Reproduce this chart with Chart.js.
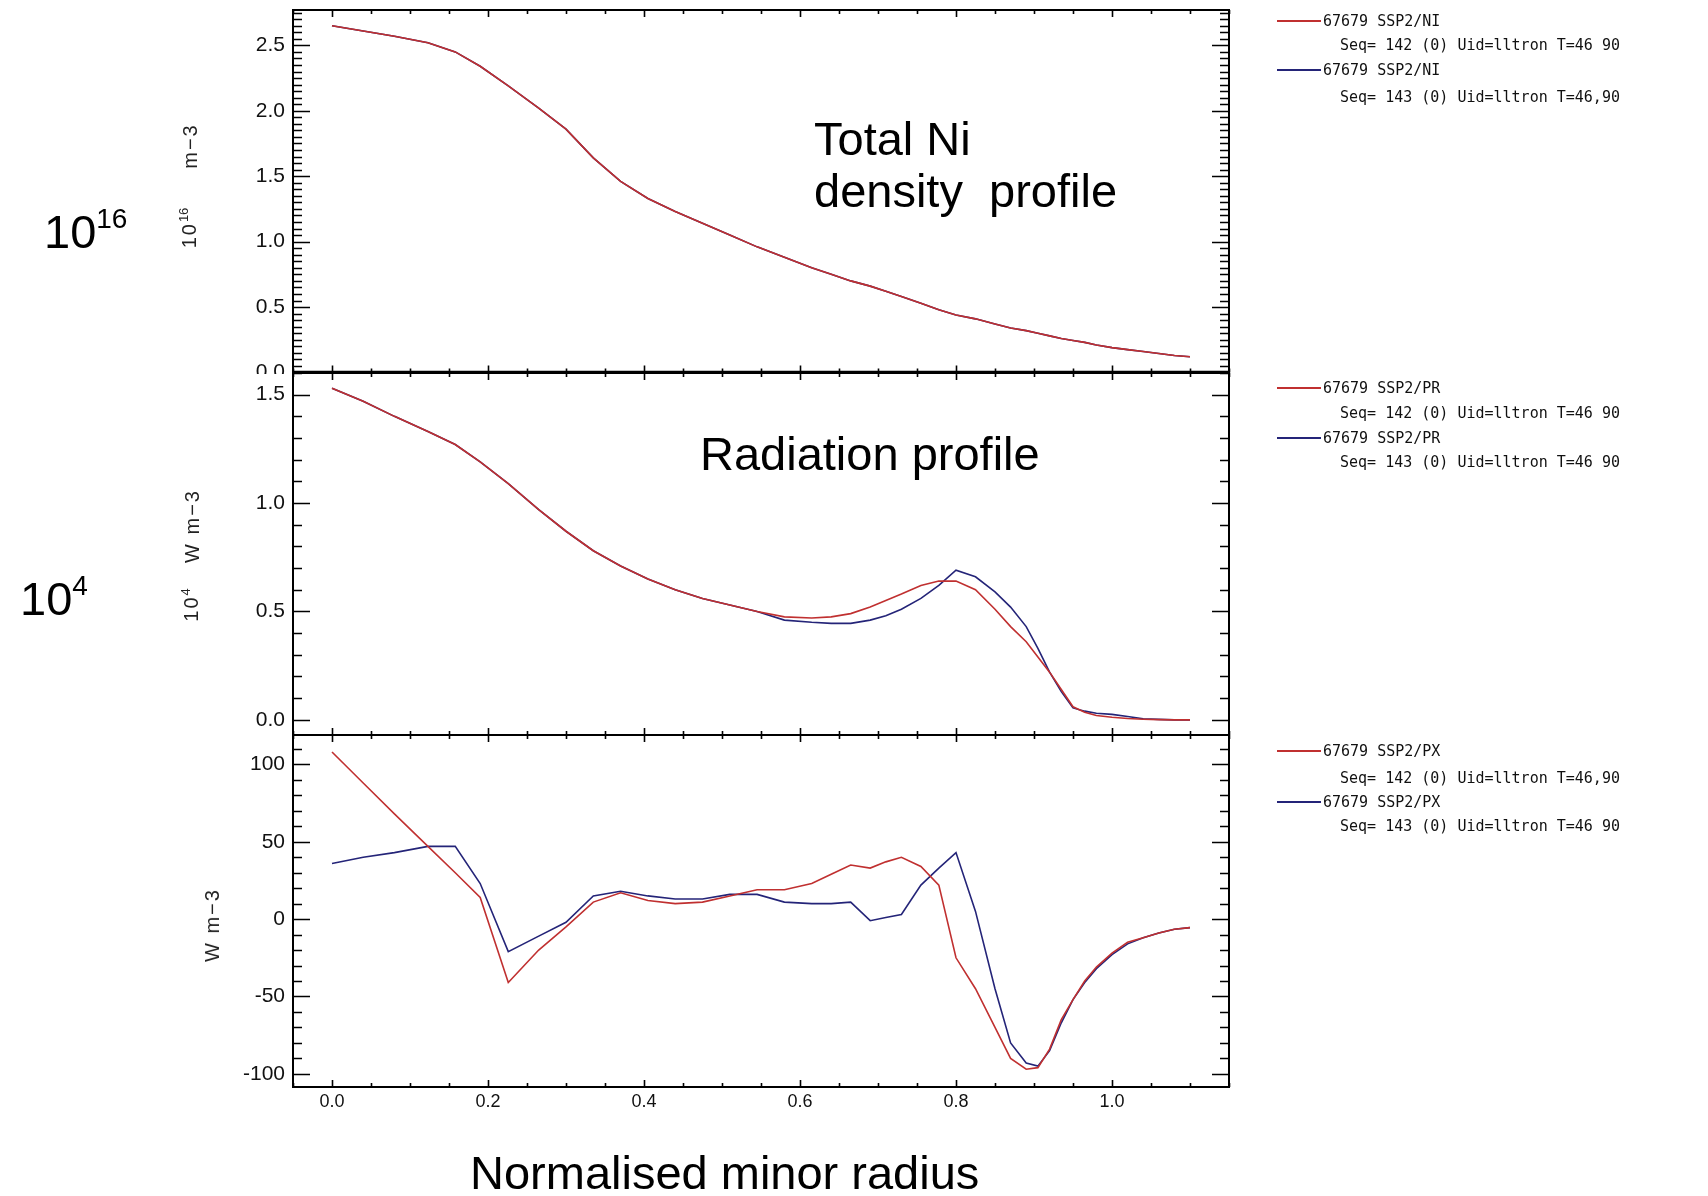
<!DOCTYPE html>
<html>
<head>
<meta charset="utf-8">
<script src="https://cdn.jsdelivr.net/npm/chart.js@4.4.1/dist/chart.umd.min.js"></script>
<style>
  html, body { margin: 0; padding: 0; background: #fff; }
  body { width: 1708px; height: 1196px; position: relative; overflow: hidden; }
  canvas { position: absolute; left: 0; }
  .big { position: absolute; font-family: "Liberation Sans", Arial, sans-serif; font-size: 47px; line-height: 47px; color: #000; white-space: pre; }
  .big sup { font-size: 28px; vertical-align: 0; position: relative; top: -20px; }
  .ytitle { position: absolute; font-family: "Liberation Sans", Arial, sans-serif; font-size: 20px; line-height: 20px; letter-spacing: 2px; color: #222; white-space: pre; transform: translate(-50%, -50%) rotate(-90deg); }
  .ytitle sup { font-size: 13px; vertical-align: 0; position: relative; top: -8px; letter-spacing: 0; }
  .leg { position: absolute; font-family: "DejaVu Sans Mono", monospace; font-size: 15px; line-height: 16px; color: #111; white-space: pre; }
  .seg { position: absolute; height: 2px; width: 44px; left: 1277px; }
</style>
</head>
<body>
<canvas id="cNi" width="1708" height="374" style="top:0px"></canvas>
<canvas id="cPr" width="1708" height="380" style="top:363px"></canvas>
<canvas id="cPx" width="1708" height="471" style="top:725px"></canvas>

<div class="big" style="left:814px; top:115px">Total Ni</div>
<div class="big" style="left:814px; top:167px">density  profile</div>
<div class="big" style="left:700px; top:430px">Radiation profile</div>
<div class="big" style="left:44px; top:208px">10<sup>16</sup></div>
<div class="big" style="left:20px; top:575px">10<sup>4</sup></div>
<div class="big" style="left:470px; top:1149px">Normalised minor radius</div>

<div class="ytitle" style="left:190px; top:228px">10<sup>16</sup></div>
<div class="ytitle" style="left:190px; top:146px">m−3</div>
<div class="ytitle" style="left:192px; top:605px">10<sup>4</sup></div>
<div class="ytitle" style="left:192px; top:526px">W m−3</div>
<div class="ytitle" style="left:212px; top:925px">W m−3</div>

<div id="legends"></div>

<script>
// Normalised minor radius grid shared by all profiles
const radius = [0.000, 0.040, 0.080, 0.123, 0.158, 0.190, 0.226, 0.265, 0.300, 0.335,
                0.370, 0.405, 0.440, 0.475, 0.510, 0.545, 0.580, 0.615, 0.640, 0.665,
                0.690, 0.710, 0.730, 0.755, 0.778, 0.800, 0.825, 0.850, 0.870, 0.890,
                0.905, 0.920, 0.935, 0.950, 0.965, 0.980, 1.000, 1.020, 1.040, 1.060,
                1.080, 1.100];

// Total Ni density (10^16 m-3)
const niSeq142 = [2.65, 2.61, 2.57, 2.52, 2.45, 2.34, 2.19, 2.02, 1.86, 1.64,
                  1.46, 1.33, 1.23, 1.14, 1.05, 0.96, 0.88, 0.80, 0.75, 0.70,
                  0.66, 0.62, 0.58, 0.53, 0.48, 0.44, 0.41, 0.37, 0.34, 0.32,
                  0.30, 0.28, 0.26, 0.245, 0.23, 0.21, 0.19, 0.175, 0.16, 0.145,
                  0.13, 0.12];
const niSeq143 = [2.65, 2.61, 2.57, 2.52, 2.45, 2.34, 2.19, 2.02, 1.86, 1.64,
                  1.46, 1.33, 1.23, 1.14, 1.05, 0.96, 0.88, 0.80, 0.75, 0.70,
                  0.66, 0.62, 0.58, 0.53, 0.48, 0.44, 0.41, 0.37, 0.34, 0.32,
                  0.30, 0.28, 0.26, 0.245, 0.23, 0.21, 0.19, 0.175, 0.16, 0.145,
                  0.13, 0.12];

// Radiated power density (10^4 W m-3)
const prSeq142 = [1.53, 1.47, 1.40, 1.33, 1.27, 1.19, 1.09, 0.97, 0.87, 0.78,
                  0.71, 0.65, 0.60, 0.56, 0.53, 0.50, 0.475, 0.47, 0.475, 0.49,
                  0.52, 0.55, 0.58, 0.62, 0.64, 0.64, 0.60, 0.51, 0.43, 0.36,
                  0.29, 0.22, 0.14, 0.06, 0.035, 0.02, 0.012, 0.006, 0.003, 0.001,
                  0, 0];
const prSeq143 = [1.53, 1.47, 1.40, 1.33, 1.27, 1.19, 1.09, 0.97, 0.87, 0.78,
                  0.71, 0.65, 0.60, 0.56, 0.53, 0.50, 0.46, 0.45, 0.445, 0.445,
                  0.46, 0.48, 0.51, 0.56, 0.62, 0.69, 0.66, 0.59, 0.52, 0.43,
                  0.33, 0.22, 0.13, 0.055, 0.04, 0.03, 0.025, 0.015, 0.005, 0.002,
                  0, 0];

// Net power source (W m-3)
const pxSeq142 = [108, 88, 68, 47, 30, 14, -41, -20, -5, 11,
                  17, 12, 10, 11, 15, 19, 19, 23, 29, 35,
                  33, 37, 40, 34, 22, -25, -45, -70, -90, -97,
                  -96, -84, -65, -52, -40, -31, -22, -15, -12, -9,
                  -6.5, -5.5];
const pxSeq143 = [36, 40, 43, 47, 47, 23, -21, -11, -2, 15,
                  18, 15, 13, 13, 16, 16, 11, 10, 10, 11,
                  -1, 1, 3, 22, 33, 43, 5, -45, -80, -93,
                  -95, -85, -67, -52, -41, -32, -23, -16, -12, -9,
                  -6.5, -5.5];

const xTickValues = [0, 0.2, 0.4, 0.6, 0.8, 1.0];

const legendNi = ['67679 SSP2/NI', 'Seq= 142 (0) Uid=lltron T=46 90', '67679 SSP2/NI', 'Seq= 143 (0) Uid=lltron T=46,90'];
const legendPr = ['67679 SSP2/PR', 'Seq= 142 (0) Uid=lltron T=46 90', '67679 SSP2/PR', 'Seq= 143 (0) Uid=lltron T=46 90'];
const legendPx = ['67679 SSP2/PX', 'Seq= 142 (0) Uid=lltron T=46,90', '67679 SSP2/PX', 'Seq= 143 (0) Uid=lltron T=46 90'];

const RED = 'rgb(192,48,48)';
const BLUE = 'rgb(36,36,120)';

const pts = ys => radius.map((r, i) => ({x: r, y: ys[i]}));

// IDL-style box: frame on four sides with inward major/minor ticks
const idlFrame = {
  id: 'idlFrame',
  afterDatasetsDraw(chart, args, o) {
    const {ctx, chartArea: a, scales: {x, y}} = chart;
    ctx.save();
    ctx.strokeStyle = '#000';
    ctx.lineWidth = 1.6;
    const each = (min, max, step, fn) => {
      const i0 = Math.ceil(min / step - 1e-9), i1 = Math.floor(max / step + 1e-9);
      for (let i = i0; i <= i1; i++) fn(+(i * step).toFixed(6));
    };
    ctx.beginPath();
    each(y.min, y.max, o.yMinor, v => {
      const major = Math.abs(v / o.yMajor - Math.round(v / o.yMajor)) < 1e-6;
      const len = major ? 17 : 9;
      const py = Math.round(y.getPixelForValue(v)) + 0.5;
      ctx.moveTo(a.left, py); ctx.lineTo(a.left + len, py);
      ctx.moveTo(a.right, py); ctx.lineTo(a.right - len, py);
    });
    each(x.min, x.max, 0.05, v => {
      const major = Math.abs(v / 0.2 - Math.round(v / 0.2)) < 1e-6;
      const len = major ? 7 : 4;
      const px = Math.round(x.getPixelForValue(v)) + 0.5;
      ctx.moveTo(px, a.bottom); ctx.lineTo(px, a.bottom - len);
      ctx.moveTo(px, a.top); ctx.lineTo(px, a.top + len);
    });
    ctx.stroke();
    ctx.lineWidth = 2;
    ctx.strokeRect(a.left, a.top, a.right - a.left, a.bottom - a.top);
    if (o.thickBottom) {
      ctx.lineWidth = 3.5;
      ctx.beginPath(); ctx.moveTo(a.left, a.bottom); ctx.lineTo(a.right, a.bottom); ctx.stroke();
    }
    ctx.restore();
  }
};

function panel(id, s) {
  new Chart(document.getElementById(id), {
    type: 'line',
    data: {
      datasets: [
        {data: pts(s.red), borderColor: RED, borderWidth: 1.6, pointRadius: 0, tension: 0},
        {data: pts(s.blue), borderColor: BLUE, borderWidth: 1.6, pointRadius: 0, tension: 0}
      ]
    },
    options: {
      responsive: false,
      animation: false,
      devicePixelRatio: 1,
      layout: {padding: {left: 0, right: 479, top: s.padTop, bottom: s.padBottom}},
      plugins: {legend: {display: false}, tooltip: {enabled: false},
                idlFrame: {yMajor: s.yMajor, yMinor: s.yMinor, thickBottom: !!s.thickBottom}},
      scales: {
        x: {
          type: 'linear', min: -0.05, max: 1.15, display: s.showX,
          afterFit(sc) { sc.height = s.xHeight || 0; sc.paddingLeft = 0; sc.paddingRight = 0; },
          afterBuildTicks(sc) { sc.ticks = xTickValues.map(v => ({value: v})); },
          grid: {display: false, drawTicks: false, tickLength: 0},
          border: {display: false},
          ticks: {padding: 4, maxRotation: 0, autoSkip: false, color: '#111',
                  font: {family: '"Liberation Sans", Arial, sans-serif', size: 18},
                  callback: v => v.toFixed(1)}
        },
        y: {
          type: 'linear', min: s.yMin, max: s.yMax,
          afterFit(sc) { sc.width = 293; sc.paddingTop = 0; sc.paddingBottom = 0; },
          afterBuildTicks(sc) { sc.ticks = s.yTicks.map(v => ({value: v})); },
          grid: {display: false, drawTicks: false, tickLength: 0},
          border: {display: false},
          ticks: {padding: 8, color: '#111',
                  font: {family: '"Liberation Sans", Arial, sans-serif', size: 21},
                  callback: s.fmt}
        }
      }
    },
    plugins: [idlFrame]
  });
}

panel('cNi', {red: niSeq142, blue: niSeq143, yMin: 0, yMax: 2.77, yMajor: 0.5, yMinor: 0.05,
  yTicks: [0, 0.5, 1.0, 1.5, 2.0, 2.5], fmt: v => v.toFixed(1),
  padTop: 10, padBottom: 1.5, showX: false, thickBottom: true});
panel('cPr', {red: prSeq142, blue: prSeq143, yMin: -0.07, yMax: 1.60, yMajor: 0.5, yMinor: 0.1,
  yTicks: [0, 0.5, 1.0, 1.5], fmt: v => v.toFixed(1),
  padTop: 10, padBottom: 8, showX: false});
panel('cPx', {red: pxSeq142, blue: pxSeq143, yMin: -108.5, yMax: 119, yMajor: 50, yMinor: 10,
  yTicks: [-100, -50, 0, 50, 100], fmt: v => String(v),
  padTop: 10, padBottom: 0, showX: true, xHeight: 109});

// Right-hand series legends
const legHost = document.getElementById('legends');
[[legendNi, [21, 45, 70, 97]], [legendPr, [388, 413, 438, 462]], [legendPx, [751, 778, 802, 826]]]
  .forEach(([lines, ys]) => {
    lines.forEach((t, i) => {
      const d = document.createElement('div');
      d.className = 'leg';
      d.textContent = t;
      d.style.left = (i % 2 === 0 ? 1323 : 1340) + 'px';
      d.style.top = (ys[i] - 8) + 'px';
      legHost.appendChild(d);
      if (i % 2 === 0) {
        const s = document.createElement('div');
        s.className = 'seg';
        s.style.top = (ys[i] - 1) + 'px';
        s.style.background = i === 0 ? RED : BLUE;
        legHost.appendChild(s);
      }
    });
  });
</script>
</body>
</html>
